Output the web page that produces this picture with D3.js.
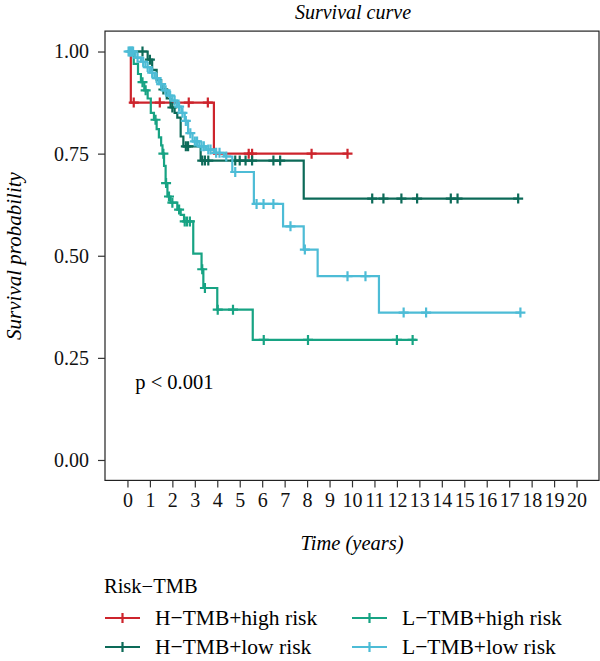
<!DOCTYPE html>
<html>
<head>
<meta charset="utf-8">
<script src="https://cdn.jsdelivr.net/npm/d3@7"></script>
<style>
  body { margin: 0; background: #fff; }
  svg { font-family: "Liberation Serif", "DejaVu Serif", serif; }
</style>
</head>
<body>
<div id="viz"></div>
<script>
// groups (legend order = drawing order)
const groups = ["H−TMB+high risk", "H−TMB+low risk", "L−TMB+high risk", "L−TMB+low risk"];
const colors = ["#cd242c", "#0c6a58", "#17a383", "#4dbcd6"];

// step times (years) and survival after each step
const hhTimes = [0.15, 3.85];
const hhSurv = [0.875, 0.75];
const hhCensor = [0.28, 1.44, 2.73, 3.58, 5.4, 5.55, 8.2, 9.8];
const hhEnd = 9.8;

const hlTimes = [0.9, 1.1, 1.3, 1.5, 1.75, 1.92, 2.1, 2.22, 2.37, 2.49, 3.26, 7.85];
const hlSurv = [0.98, 0.955, 0.93, 0.907, 0.885, 0.863, 0.85, 0.838, 0.792, 0.768, 0.733, 0.64];
const hlCensor = [0.67, 1.0, 1.6, 2.0, 2.6, 2.7, 3.33, 3.45, 3.6, 4.8, 5.0, 5.26, 5.55, 6.5, 6.8, 10.9, 11.4, 12.2, 12.9, 14.4, 14.7, 17.4];
const hlEnd = 17.4;

const lhTimes = [0.28, 0.47, 0.6, 0.75, 0.9, 1.04, 1.18, 1.3, 1.4, 1.5, 1.56, 1.63, 1.7, 1.78, 1.92, 2.22, 2.37, 2.52, 2.93, 3.3, 3.38, 4.0, 5.58];
const lhSurv = [0.97, 0.945, 0.925, 0.905, 0.885, 0.85, 0.833, 0.81, 0.79, 0.77, 0.75, 0.72, 0.678, 0.645, 0.63, 0.613, 0.6, 0.584, 0.505, 0.467, 0.421, 0.368, 0.294];
const lhCensor = [0.67, 0.81, 1.25, 1.6, 1.72, 1.85, 2.0, 2.3, 2.55, 2.65, 2.78, 3.33, 3.45, 4.02, 4.7, 6.07, 8.04, 12.0, 12.7];
const lhEnd = 12.86;

const llTimes = [0.35, 0.6, 0.8, 1.0, 1.2, 1.4, 1.6, 1.8, 2.0, 2.2, 2.4, 2.55, 2.7, 2.9, 3.2, 3.5, 3.85, 4.3, 4.67, 5.63, 6.93, 7.85, 8.47, 11.2];
const llSurv = [0.985, 0.975, 0.962, 0.948, 0.935, 0.92, 0.905, 0.892, 0.88, 0.865, 0.85, 0.83, 0.8, 0.78, 0.768, 0.76, 0.752, 0.743, 0.705, 0.627, 0.572, 0.515, 0.45, 0.361];
const llCensor = [0.05, 0.1, 0.15, 0.2, 0.25, 0.45, 0.7, 0.9, 1.1, 1.3, 1.5, 1.7, 1.9, 2.1, 2.3, 2.45, 2.6, 2.8, 3.0, 3.1, 3.3, 3.4, 3.6, 3.7, 3.95, 4.1, 4.4, 4.8, 5.75, 6.06, 6.5, 7.26, 7.9, 9.8, 10.6, 12.3, 13.3, 17.5];
const llEnd = 17.5;

const xTicks = d3.range(0, 21);
const yTicks = [0, 0.25, 0.5, 0.75, 1];

const series = [
  { times: hhTimes, surv: hhSurv, censor: hhCensor, end: hhEnd },
  { times: hlTimes, surv: hlSurv, censor: hlCensor, end: hlEnd },
  { times: lhTimes, surv: lhSurv, censor: lhCensor, end: lhEnd },
  { times: llTimes, surv: llSurv, censor: llCensor, end: llEnd },
];

const width = 600, height = 661;
const svg = d3.select("#viz").append("svg").attr("width", width).attr("height", height);

const x = d3.scaleLinear().domain([-1, 21]).range([105, 599]);
const y = d3.scaleLinear().domain([-0.05, 1.05]).range([480.4, 31.1]);

// survival at time t
function survAt(s, t) {
  let v = 1;
  s.times.forEach((d, i) => { if (d <= t) v = s.surv[i]; });
  return v;
}

// panel border
svg.append("rect")
  .attr("x", x(-1)).attr("y", y(1.05))
  .attr("width", x(21) - x(-1)).attr("height", y(-0.05) - y(1.05))
  .attr("fill", "none").attr("stroke", "#222").attr("stroke-width", 1.2);

// axes
const xAxis = svg.append("g")
  .attr("transform", `translate(0,${y(-0.05)})`)
  .call(d3.axisBottom(x).tickValues(xTicks).tickSize(7).tickPadding(5).tickFormat(d3.format("d")));
const yAxis = svg.append("g")
  .attr("transform", `translate(${x(-1)},0)`)
  .call(d3.axisLeft(y).tickValues(yTicks).tickSize(7).tickPadding(9).tickFormat(d3.format(".2f")));
[xAxis, yAxis].forEach((g) => {
  g.select(".domain").remove();
  g.selectAll("line").attr("stroke", "#333").attr("stroke-width", 1.2);
  g.selectAll("text").attr("font-family", "Liberation Serif").attr("font-size", 20).attr("fill", "#111");
});

const line = d3.line().x((d) => x(d[0])).y((d) => y(d[1])).curve(d3.curveStepAfter);

function plus(g, cx, cy, col, r) {
  g.append("path")
    .attr("d", `M${cx - r},${cy}H${cx + r}M${cx},${cy - r}V${cy + r}`)
    .attr("stroke", col).attr("stroke-width", 2.2).attr("fill", "none");
}

const chartArea = svg.append("g");
series.forEach((s, i) => {
  const pts = [[0, 1]].concat(s.times.map((t, j) => [t, s.surv[j]]));
  pts.push([s.end, s.surv[s.surv.length - 1]]);
  const g = chartArea.append("g");
  g.append("path").datum(pts).attr("d", line)
    .attr("fill", "none").attr("stroke", colors[i]).attr("stroke-width", 2.2);
  s.censor.forEach((t) => plus(g, x(t), y(survAt(s, t)), colors[i], 5));
});

// p value
svg.append("text").attr("x", x(0.35)).attr("y", y(0.19) + 7)
  .attr("font-size", 20.5).text("p < 0.001");

// titles
svg.append("text").attr("x", 353).attr("y", 19).attr("text-anchor", "middle")
  .attr("font-style", "italic").attr("font-size", 20).text("Survival curve");
svg.append("text").attr("x", 352).attr("y", 550).attr("text-anchor", "middle")
  .attr("font-style", "italic").attr("font-size", 20.5).text("Time (years)");
svg.append("text").attr("transform", "translate(21,256) rotate(-90)").attr("text-anchor", "middle")
  .attr("font-style", "italic").attr("font-size", 21).text("Survival probability");

// legend
const legend = svg.append("g");
legend.append("text").attr("x", 104).attr("y", 593).attr("font-size", 20.5).text("Risk−TMB");
groups.forEach((d, i) => {
  const lx = i < 2 ? 105 : 352;
  const ly = i % 2 === 0 ? 618 : 647;
  legend.append("line").attr("x1", lx).attr("x2", lx + 35).attr("y1", ly).attr("y2", ly)
    .attr("stroke", colors[i]).attr("stroke-width", 2.2);
  plus(legend, lx + 17.5, ly, colors[i], 5);
  legend.append("text").attr("x", lx + 50).attr("y", ly + 7).attr("font-size", 21.5).text(d);
});
</script>
</body>
</html>
